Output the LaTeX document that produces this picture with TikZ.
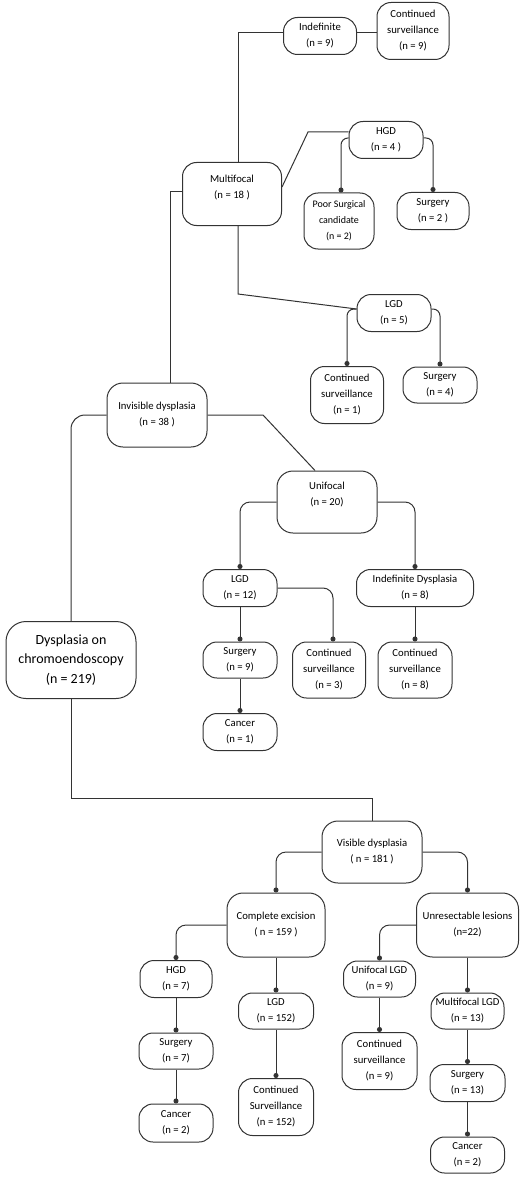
\documentclass[tikz,border=0pt]{standalone}
\usepackage{fontspec}
\setmainfont{Carlito}
\usetikzlibrary{arrows.meta}
\tikzset{
  nbox/.style={draw=black!80, line width=1pt, rounded corners=14pt, align=center,
    inner sep=0pt, font=\fontsize{10.7}{16}\selectfont},
  link/.style={draw=black!80, line width=1pt},
  dotlink/.style={link, -{Circle[length=5pt]}, rounded corners=7pt},
}
\begin{document}
\begin{tikzpicture}[x=1pt,y=-1pt]
\useasboundingbox (0,0) rectangle (520,1177);
% nodes
\node[nbox, minimum width=73pt, minimum height=37pt] (ind) at (320,36) {Indefinite\\(n = 9)};
\node[nbox, minimum width=72pt, minimum height=57pt] (cs1) at (413,31) {Continued\\surveillance\\(n = 9)};
\node[nbox, minimum width=74pt, minimum height=37pt] (hgd4) at (386,140) {HGD\\(n = 4 )};
\node[nbox, minimum width=99pt, minimum height=63pt] (mf) at (232,194) {Multifocal\\(n = 18 )\\[-1pt]\mbox{}};
\node[nbox, minimum width=70pt, minimum height=56pt, font=\fontsize{10}{16}\selectfont] (psc) at (339,221) {Poor Surgical\\candidate\\(n = 2)};
\node[nbox, minimum width=72pt, minimum height=37pt] (sg1) at (433,211) {Surgery\\(n = 2 )};
\node[nbox, minimum width=74pt, minimum height=37pt] (lgd5) at (394,313) {LGD\\(n = 5)};
\node[nbox, minimum width=73pt, minimum height=57pt] (cs2) at (347,395) {Continued\\surveillance\\(n = 1)};
\node[nbox, minimum width=74pt, minimum height=36pt] (sg2) at (440,385) {Surgery\\(n = 4)};
\node[nbox, minimum width=100pt, minimum height=64pt, rounded corners=16pt] (inv) at (157,415) {Invisible dysplasia\\(n = 38 )};
\node[nbox, minimum width=100pt, minimum height=62pt, rounded corners=16pt] (uni) at (327,502) {Unifocal\\(n = 20)\\[0pt]\mbox{}};
\node[nbox, minimum width=74pt, minimum height=37pt] (lgd12) at (240,588) {LGD\\(n = 12)};
\node[nbox, minimum width=117pt, minimum height=37pt] (indd) at (415,588) {Indefinite Dysplasia\\(n = 8)};
\node[nbox, minimum width=74pt, minimum height=36pt] (sg3) at (240,660) {Surgery\\(n = 9)};
\node[nbox, minimum width=73pt, minimum height=56pt] (cs3) at (329,670) {Continued\\surveillance\\(n = 3)};
\node[nbox, minimum width=74pt, minimum height=56pt] (cs4) at (415,670) {Continued\\surveillance\\(n = 8)};
\node[nbox, minimum width=74pt, minimum height=37pt] (can1) at (240,732) {Cancer\\(n = 1)};
\node[nbox, minimum width=130pt, minimum height=77pt, rounded corners=20pt, font=\fontsize{14}{19.5}\selectfont] (dys) at (71,660) {Dysplasia on\\chromoendoscopy\\(n = 219)};
\node[nbox, minimum width=100pt, minimum height=62pt, rounded corners=16pt] (vis) at (372,852) {Visible dysplasia\\( n = 181 )};
\node[nbox, minimum width=98pt, minimum height=64pt, rounded corners=16pt] (ce) at (276,925) {Complete excision\\( n = 159 )};
\node[nbox, minimum width=102pt, minimum height=64pt, rounded corners=16pt] (ur) at (467.5,925) {Unresectable lesions\\(n=22)};
\node[nbox, minimum width=72pt, minimum height=37pt] (hgd7) at (176,979) {HGD\\(n = 7)};
\node[nbox, minimum width=75pt, minimum height=36pt] (lgd152) at (276,1011) {LGD\\(n = 152)};
\node[nbox, minimum width=72pt, minimum height=36pt] (ulgd) at (379.5,979) {Unifocal LGD\\(n = 9)};
\node[nbox, minimum width=73pt, minimum height=36pt] (mlgd) at (467.5,1011) {Multifocal LGD\\(n = 13)};
\node[nbox, minimum width=74pt, minimum height=36pt] (sg4) at (176,1051) {Surgery\\(n = 7)};
\node[nbox, minimum width=75pt, minimum height=57pt] (cs5) at (276,1107) {Continued\\Surveillance\\(n = 152)};
\node[nbox, minimum width=75pt, minimum height=57pt] (cs6) at (379.5,1061) {Continued\\surveillance\\(n = 9)};
\node[nbox, minimum width=75pt, minimum height=37pt] (sg5) at (467.5,1083) {Surgery\\(n = 13)};
\node[nbox, minimum width=74pt, minimum height=38pt] (can2) at (176,1123) {Cancer\\(n = 2)};
\node[nbox, minimum width=74pt, minimum height=36pt] (can3) at (467.5,1155) {Cancer\\(n = 2)};
% helper coordinates
\coordinate (k1) at (308,132);
\coordinate (k2) at (263,415);
% connectors, upper part
\draw[link] ([xshift=13pt]inv.north) |- ([yshift=2pt]mf.west);
\draw[link] ([xshift=6pt]mf.north) |- ([yshift=3pt]ind.west);
\draw[link] ([yshift=3pt]ind.east) -- ([yshift=3pt]ind.east -| cs1.west);
\draw[link] ([yshift=7pt]mf.east) -- (k1) -- (k1 -| hgd4.west);
\draw[dotlink] ([yshift=2pt]hgd4.west) -| ([xshift=2pt]psc.north);
\draw[dotlink] ([yshift=2pt]hgd4.east) -| (sg1.north);
\draw[link] ([xshift=6pt]mf.south) -- ++(0,68) -- ([yshift=4pt]lgd5.west);
\draw[dotlink] ([yshift=4pt]lgd5.west) -| (cs2.north);
\draw[dotlink] ([yshift=4pt]lgd5.east) -| (sg2.north);
% invisible dysplasia
\draw[link] (inv.east) -- (k2) -- ([xshift=-12pt]uni.north);
\draw[link, rounded corners=14pt] (inv.west) -| (dys.north);
\draw[dotlink, rounded corners=10pt] (uni.west) -| (lgd12.north);
\draw[dotlink, rounded corners=10pt] (uni.east) -| (indd.north);
\draw[dotlink, rounded corners=10pt] (lgd12.east) -| ([xshift=4pt]cs3.north);
\draw[dotlink] (lgd12.south) -- (sg3.north);
\draw[dotlink] (sg3.south) -- (can1.north);
\draw[dotlink] (indd.south) -- (cs4.north);
% visible dysplasia
\draw[link] (dys.south) -- ++(0,99) -| (vis.north);
\draw[dotlink, rounded corners=10pt] (vis.west) -| (ce.north);
\draw[dotlink, rounded corners=10pt] (vis.east) -| (ur.north);
\draw[dotlink, rounded corners=10pt] (ce.west) -| (hgd7.north);
\draw[dotlink] (ce.south) -- (lgd152.north);
\draw[dotlink, rounded corners=10pt] (ur.west) -| (ulgd.north);
\draw[dotlink] (ur.south) -- (mlgd.north);
\draw[dotlink] (hgd7.south) -- (sg4.north);
\draw[dotlink] (sg4.south) -- (can2.north);
\draw[dotlink] (lgd152.south) -- (cs5.north);
\draw[dotlink] (ulgd.south) -- (cs6.north);
\draw[dotlink] (mlgd.south) -- (sg5.north);
\draw[dotlink] (sg5.south) -- (can3.north);
\end{tikzpicture}
\end{document}
